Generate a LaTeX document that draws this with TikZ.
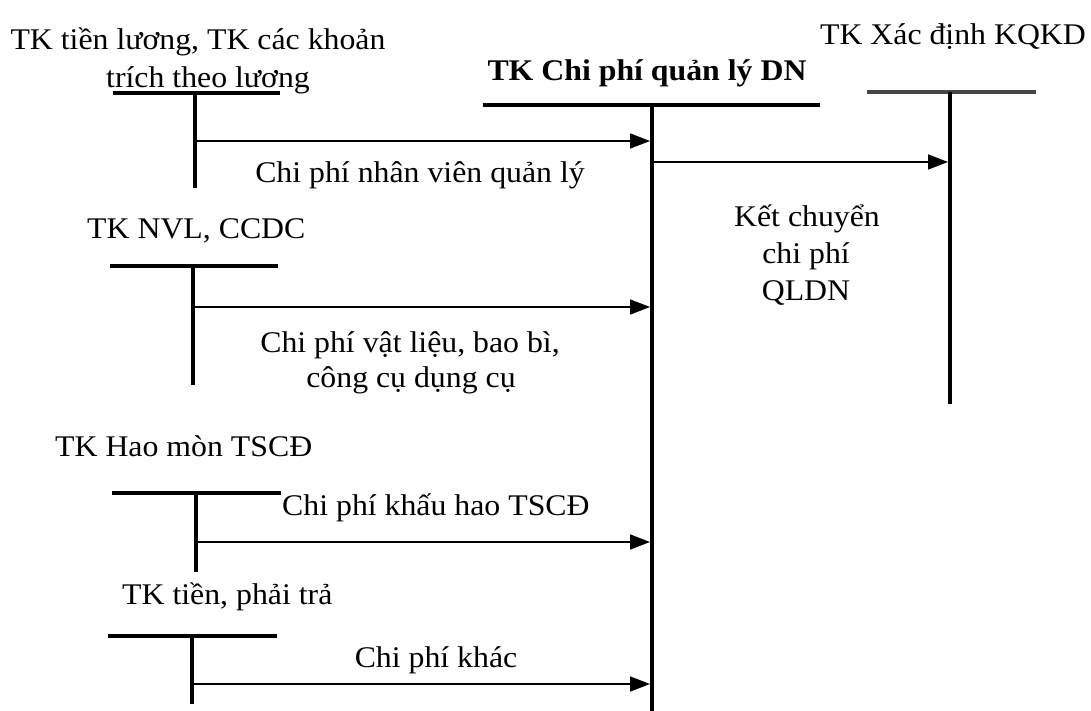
\documentclass[tikz,border=0pt]{standalone}
\usepackage{fontspec}
\setmainfont{Liberation Serif}[FakeStretch=1.06]
\usetikzlibrary{arrows.meta}
\begin{document}
\begin{tikzpicture}[x=1pt,y=-1pt,
  acct/.style={line width=3.6pt},
  acctgray/.style={line width=4.5pt,draw=black!72},
  flow/.style={line width=1.6pt,-{Triangle[length=20pt,width=15pt]}},
  lbl/.style={font=\fontsize{30}{36}\selectfont,inner sep=0pt,anchor=base},
  lbll/.style={lbl,anchor=base west}]
\useasboundingbox (0,0) rectangle (1091,711);

% main account: TK Chi phi quan ly DN
\coordinate (mL) at (483,105);
\coordinate (mR) at (820,105);
\coordinate (mT) at (652,105);
\coordinate (mB) at (652,711);
\draw[acct] (mL) -- (mR);
\draw[acct] (mT) -- (mB);
\node[lbl,font=\fontsize{30}{36}\selectfont\bfseries] (main) at (647,81) {TK Chi phí quản lý DN};

% TK Xac dinh KQKD
\coordinate (kL) at (867,92);
\coordinate (kR) at (1036,92);
\coordinate (kT) at (950,92);
\coordinate (kB) at (950,404);
\draw[acctgray] (kL) -- (kR);
\draw[acct] (kT) -- (kB);
\node[lbl] (kqkd) at (953,45) {TK Xác định KQKD};

% TK tien luong
\coordinate (aL) at (113,93);
\coordinate (aR) at (280,93);
\coordinate (aT) at (195,93);
\coordinate (aB) at (195,188);
\draw[acct] (aL) -- (aR);
\draw[acct] (aT) -- (aB);
\node[lbl] (tl1) at (198,50) {TK tiền lương, TK các khoản};
\node[lbl] (tl2) at (208,88) {trích theo lương};

% TK NVL, CCDC
\coordinate (bL) at (110,266);
\coordinate (bR) at (278,266);
\coordinate (bT) at (193,266);
\coordinate (bB) at (193,385);
\draw[acct] (bL) -- (bR);
\draw[acct] (bT) -- (bB);
\node[lbll] (nvl) at (87,238) {TK NVL, CCDC};

% TK Hao mon TSCD
\coordinate (cL) at (112,493);
\coordinate (cR) at (281,493);
\coordinate (cT) at (196,493);
\coordinate (cB) at (196,572);
\draw[acct] (cL) -- (cR);
\draw[acct] (cT) -- (cB);
\node[lbll] (hm) at (55,456) {TK Hao mòn TSCĐ};

% TK tien, phai tra
\coordinate (dL) at (108,636);
\coordinate (dR) at (277,636);
\coordinate (dT) at (192,636);
\coordinate (dB) at (192,704);
\draw[acct] (dL) -- (dR);
\draw[acct] (dT) -- (dB);
\node[lbll] (tpt) at (122,604) {TK tiền, phải trả};

% flows into the main account
\coordinate (f1s) at (195,141);  \coordinate (f1e) at (650,141);
\coordinate (f2s) at (193,307);  \coordinate (f2e) at (650,307);
\coordinate (f3s) at (196,542);  \coordinate (f3e) at (650,542);
\coordinate (f4s) at (192,684);  \coordinate (f4e) at (650,684);
\draw[flow] (f1s) -- (f1e);
\draw[flow] (f2s) -- (f2e);
\draw[flow] (f3s) -- (f3e);
\draw[flow] (f4s) -- (f4e);

% closing entry to KQKD
\coordinate (f5s) at (654,162);  \coordinate (f5e) at (948,162);
\draw[flow] (f5s) -- (f5e);

% flow labels
\node[lbl] (l1) at (420,183) {Chi phí nhân viên quản lý};
\node[lbl] (l2a) at (410,352) {Chi phí vật liệu, bao bì,};
\node[lbl] (l2b) at (411,387) {công cụ dụng cụ};
\node[lbll] (l3) at (282,515) {Chi phí khấu hao TSCĐ};
\node[lbl] (l4) at (436,667) {Chi phí khác};
\node[lbl] (k1) at (807,227) {Kết chuyển};
\node[lbl] (k2) at (806,263) {chi phí};
\node[lbl] (k3) at (806,300) {QLDN};
\end{tikzpicture}
\end{document}
